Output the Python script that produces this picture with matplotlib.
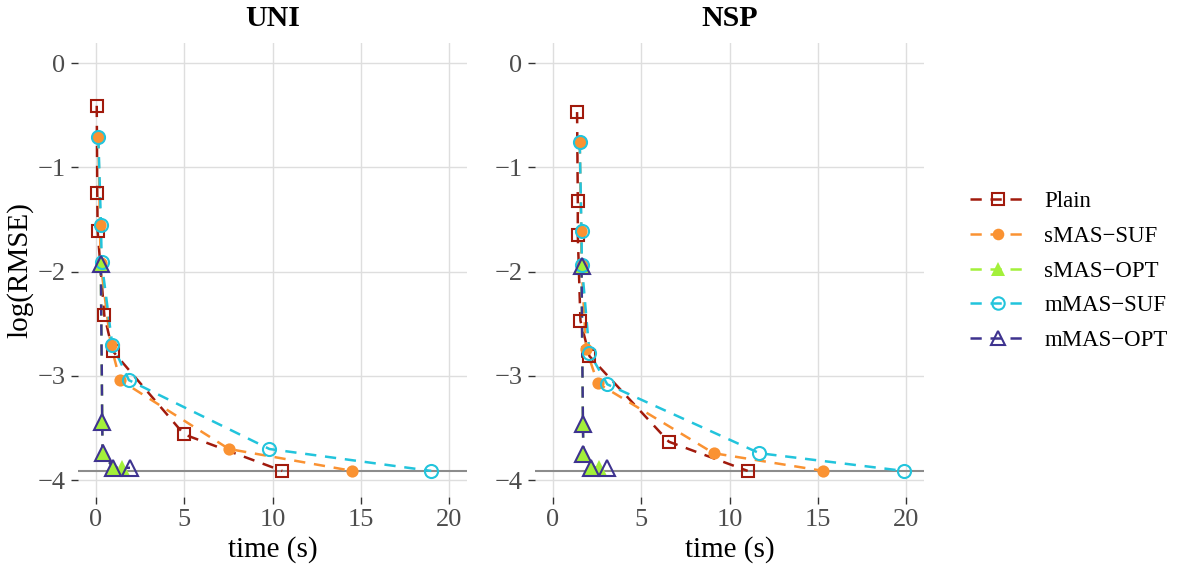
import matplotlib
matplotlib.use("Agg")
import matplotlib.pyplot as plt
from matplotlib.lines import Line2D

plt.rcParams['font.family'] = ['Liberation Serif', 'DejaVu Serif']
plt.rcParams['axes.unicode_minus'] = True

# ---------------- data ----------------
series_names = ["Plain", "sMAS\u2212SUF", "sMAS\u2212OPT", "mMAS\u2212SUF", "mMAS\u2212OPT"]
panel_titles = ["UNI", "NSP"]
hline_value = -3.91
x_ticks = [0, 5, 10, 15, 20]
y_ticks = [0, -1, -2, -3, -4]

# UNI panel
plain_uni_x = [0.06, 0.09, 0.11, 0.49, 0.96, 5.00, 10.55]
plain_uni_y = [-0.41, -1.25, -1.61, -2.42, -2.76, -3.56, -3.91]
ssuf_uni_x = [0.15, 0.24, 0.28, 0.85, 1.38, 7.54, 14.52]
ssuf_uni_y = [-0.71, -1.55, -1.92, -2.70, -3.04, -3.70, -3.91]
sopt_uni_x = [0.29, 0.37, 0.39, 1.00, 1.50]
sopt_uni_y = [-1.93, -3.44, -3.74, -3.88, -3.88]
msuf_uni_x = [0.15, 0.30, 0.34, 0.94, 1.88, 9.83, 18.98]
msuf_uni_y = [-0.71, -1.55, -1.91, -2.70, -3.04, -3.70, -3.91]
mopt_uni_x = [0.29, 0.37, 0.39, 1.00, 1.94]
mopt_uni_y = [-1.93, -3.44, -3.74, -3.88, -3.88]

# NSP panel
plain_nsp_x = [1.38, 1.42, 1.42, 1.57, 2.08, 6.57, 11.03]
plain_nsp_y = [-0.47, -1.32, -1.65, -2.47, -2.81, -3.63, -3.91]
ssuf_nsp_x = [1.53, 1.61, 1.63, 1.89, 2.55, 9.10, 15.31]
ssuf_nsp_y = [-0.76, -1.61, -1.94, -2.74, -3.07, -3.74, -3.91]
sopt_nsp_x = [1.63, 1.71, 1.74, 2.14, 2.61]
sopt_nsp_y = [-1.95, -3.46, -3.75, -3.88, -3.88]
msuf_nsp_x = [1.53, 1.63, 1.65, 2.08, 3.09, 11.69, 19.85]
msuf_nsp_y = [-0.76, -1.61, -1.94, -2.78, -3.08, -3.74, -3.91]
mopt_nsp_x = [1.63, 1.71, 1.74, 2.14, 3.09]
mopt_nsp_y = [-1.95, -3.46, -3.75, -3.88, -3.88]

# ---------------- styles ----------------
colors = ["#A11A0C", "#FA9232", "#A3F03A", "#22C4DC", "#3E338F"]
markers = ["s", "o", "^", "o", "^"]
filled = [False, True, True, False, False]
msizes = [9.2, 8.8, 11.0, 9.4, 11.0]
mew = 1.5

panels = [
    [(plain_uni_x, plain_uni_y), (ssuf_uni_x, ssuf_uni_y), (sopt_uni_x, sopt_uni_y),
     (msuf_uni_x, msuf_uni_y), (mopt_uni_x, mopt_uni_y)],
    [(plain_nsp_x, plain_nsp_y), (ssuf_nsp_x, ssuf_nsp_y), (sopt_nsp_x, sopt_nsp_y),
     (msuf_nsp_x, msuf_nsp_y), (mopt_nsp_x, mopt_nsp_y)],
]

W, H = 1187, 569
fig = plt.figure(figsize=(W / 100, H / 100), dpi=100)
fig.patch.set_facecolor("white")

ax_left_px = [78, 535]
ax_w_px = 389
ax_top_px, ax_bot_px = 42.7, 497

lw = 1.8
dash = (0, (4.5, 3.5))

for pi, ax_left in enumerate(ax_left_px):
    ax = fig.add_axes([ax_left / W, (H - ax_bot_px) / H, ax_w_px / W,
                       (ax_bot_px - ax_top_px) / H])
    ax.set_facecolor("white")
    ax.set_xlim(-1.0, 21.0)
    ax.set_ylim(-4.16, 0.195)
    ax.set_xticks(x_ticks)
    ax.set_yticks(y_ticks)
    ax.grid(True, color="#DEDEDE", linewidth=1.0, zorder=0)
    ax.set_axisbelow(True)
    for s in ax.spines.values():
        s.set_visible(False)
    ax.tick_params(axis="both", direction="out", length=5, width=1.0,
                   color="#333333", labelcolor="#4D4D4D", labelsize=19, pad=4)
    ax.axhline(hline_value, color="#8C8C8C", linewidth=1.5, zorder=1.5)
    for si, (xs, ys) in enumerate(panels[pi]):
        ax.plot(xs, ys, color=colors[si], linewidth=lw, linestyle=dash, zorder=2)
    for si, (xs, ys) in enumerate(panels[pi]):
        ax.plot(xs, ys, linestyle="none", marker=markers[si], markersize=msizes[si],
                markerfacecolor=colors[si] if filled[si] else "none",
                markeredgecolor=colors[si], markeredgewidth=mew if not filled[si] else 0.0,
                zorder=3 + si * 0.1)
    ax.set_title(panel_titles[pi], fontsize=21.5, fontweight="bold", pad=12)
    ax.set_xlabel("time (s)", fontsize=21, labelpad=3)
    if pi == 0:
        ax.set_ylabel("log(RMSE)", fontsize=21, labelpad=3)

handles = []
for si in range(5):
    handles.append(Line2D([0], [0], color=colors[si], linewidth=lw, linestyle=dash,
                          marker=markers[si], markersize=msizes[si] * 0.95,
                          markerfacecolor=colors[si] if filled[si] else "none",
                          markeredgecolor=colors[si],
                          markeredgewidth=mew if not filled[si] else 0.0))
fig.legend(handles, series_names, loc="center left",
           bbox_to_anchor=(970 / W, 1 - 271 / H), frameon=False,
           fontsize=16.5, handlelength=2.4, handletextpad=0.85, labelspacing=0.6,
           borderpad=0, borderaxespad=0)

fig.savefig("out.png", dpi=100, facecolor="white")
